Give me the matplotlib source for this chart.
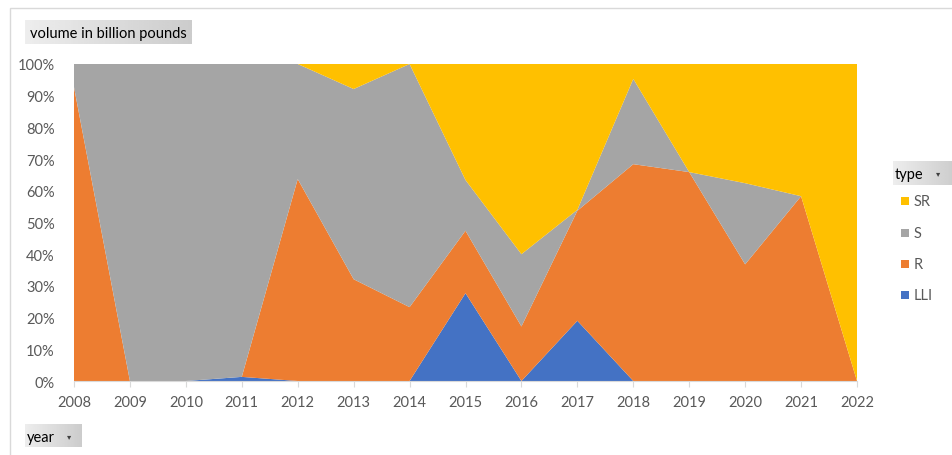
import numpy as np
import matplotlib
matplotlib.use("Agg")
import matplotlib.pyplot as plt
from matplotlib.patches import Rectangle

plt.rcParams['font.family'] = ['Lato', 'DejaVu Sans']

# share of volume per type, in percent of the year's total
years = [2008, 2009, 2010, 2011, 2012, 2013, 2014, 2015,
         2016, 2017, 2018, 2019, 2020, 2021, 2022]
lli = [0, 0, 0, 1.3, 0, 0, 0, 27.7, 0, 19.0, 0, 0, 0, 0, 0]
r = [92.7, 0, 0, 0, 63.7, 32.1, 23.3, 19.7, 17.2, 34.7, 68.4, 65.9, 36.8, 58.3, 0]
s = [7.3, 100, 100, 98.7, 36.3, 60.0, 76.7, 16.0, 22.8, 0.3, 26.9, 0, 25.6, 0, 0]
sr = [0, 0, 0, 0, 0, 7.9, 0, 36.6, 60.0, 46.0, 4.7, 34.1, 37.6, 41.7, 100]

types = ["LLI", "R", "S", "SR"]
colors = ["#4472C4", "#ED7D31", "#A5A5A5", "#FFC000"]

W, H = 953, 456
fig = plt.figure(figsize=(W / 100, H / 100), dpi=100)

# outer chart frame
fig.patches.append(Rectangle((10 / W, -0.01), 1.0, 1 - 9 / H + 0.01,
                             transform=fig.transFigure, fill=False,
                             edgecolor="#d9d9d9", linewidth=1.0))

ax = fig.add_axes([74 / W, 1 - 382 / H, (857 - 74) / W, (382 - 65) / H])
ax.stackplot(years, lli, r, s, sr, colors=colors, linewidth=0)
ax.set_xlim(years[0], years[-1])
ax.set_ylim(0, 100)
ax.set_xticks(years)
ax.set_xticklabels([str(y) for y in years])
ax.set_yticks(np.arange(0, 101, 10))
ax.set_yticklabels(["{}%".format(v) for v in range(0, 101, 10)])
for side in ["top", "right", "left"]:
    ax.spines[side].set_visible(False)
ax.spines["bottom"].set_color("#d9d9d9")
ax.tick_params(axis="x", length=4, color="#d9d9d9", labelsize=10.5,
               labelcolor="#595959", pad=6)
ax.tick_params(axis="y", length=0, labelsize=10.5, labelcolor="#595959", pad=14)


def field_button(x0, y0, x1, y1, label):
    """ Gray gradient pivot field button, pixel box (top-left origin) """
    bax = fig.add_axes([x0 / W, 1 - y1 / H, (x1 - x0) / W, (y1 - y0) / H])
    grad = np.linspace(0.93, 0.80, 64).reshape(1, -1)
    bax.imshow(np.repeat(grad, 8, axis=0), cmap="gray", vmin=0, vmax=1,
               aspect="auto", extent=[0, 1, 0, 1])
    bax.set_axis_off()
    bax.text(0.03, 0.45, label, fontsize=10.5, color="#000000",
             va="center", ha="left", transform=bax.transAxes)
    return bax


field_button(25, 21, 192, 45, "volume in billion pounds")
yb = field_button(25, 425, 82, 448, "year")
yb.text(0.78, 0.5, "▾", fontsize=6, color="#404040", va="center", ha="center",
        transform=yb.transAxes)
tb = field_button(893, 162, 956, 186, "type")
tb.text(0.72, 0.5, "▾", fontsize=6, color="#404040", va="center", ha="center",
        transform=tb.transAxes)

# legend, top entry first
legend_y = [202, 234, 265, 296]
for name, col, py in zip(types[::-1], colors[::-1], legend_y):
    fig.patches.append(Rectangle((901 / W, 1 - (py + 4) / H), 8 / W, 8 / H,
                                 transform=fig.transFigure, facecolor=col,
                                 edgecolor="none"))
    fig.text(914 / W, 1 - py / H, name, fontsize=10.5, color="#595959",
             va="center", ha="left")

fig.savefig("out.png", dpi=100)
